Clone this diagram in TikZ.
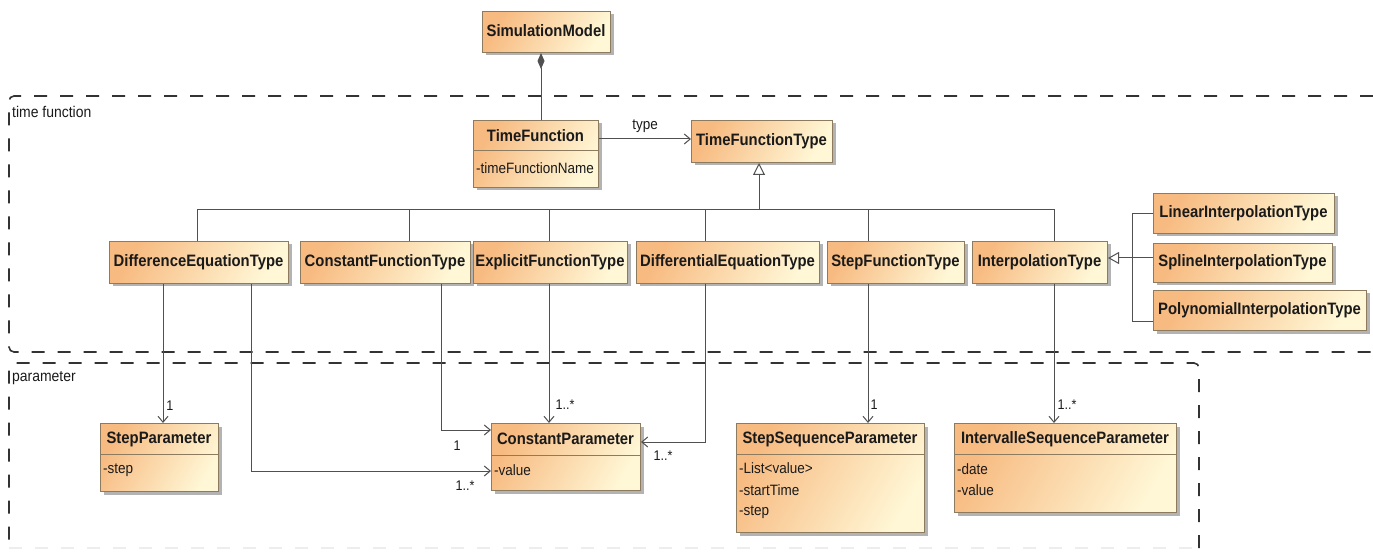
\documentclass[tikz,border=0pt]{standalone}
\usepackage{fontspec}
\setmainfont{Liberation Sans}[FakeStretch=0.9]
\usetikzlibrary{arrows.meta,shadows,calc}
\definecolor{boxedge}{HTML}{8C7B5E}
\definecolor{boxl}{HTML}{F7BA80}
\definecolor{boxr}{HTML}{FFF7D6}
\definecolor{ln}{HTML}{505050}
\definecolor{pkg}{HTML}{333333}
\definecolor{txt}{HTML}{1A1A1A}
\tikzset{
  cls/.style={draw=boxedge, line width=1pt, left color=boxl, right color=boxr, shading angle=60,
    drop shadow={shadow xshift=3pt, shadow yshift=-3pt, fill=black!50, opacity=0.6},
    inner sep=0pt, anchor=north west},
  cname/.style={font=\bfseries\fontsize{16.5}{18}\selectfont, inner sep=0pt, text=txt},
  attr/.style={font=\fontsize{15}{18}\selectfont, inner sep=0pt, anchor=west, text=txt},
  divline/.style={draw=boxedge, line width=1pt},
  conn/.style={draw=ln, line width=1pt},
  assoc/.style={conn, -{Straight Barb[length=6pt,width=10pt]}},
  gen/.style={conn, -{Triangle[length=12pt,width=12pt,fill=white]}},
  comp/.style={conn, {Diamond[length=16pt,width=7pt,fill=ln]}-},
  mult/.style={font=\fontsize{14}{16}\selectfont, inner sep=0pt, text=txt},
  pkgline/.style={draw=pkg, line width=1.6pt, dash pattern=on 13pt off 13pt, rounded corners=5pt},
  pkglabel/.style={font=\fontsize{15.5}{18}\selectfont, inner sep=0pt, anchor=west, text=txt},
}
\begin{document}
\begin{tikzpicture}[x=1pt,y=-1pt]
\useasboundingbox (0,0) rectangle (1373,553);
% packages
\draw[pkgline] (1373,96) -- (9,96) -- (9,352) -- (1373,352);
\node[pkglabel] (pkgtf) at (12,112) {time function};
\draw[pkgline] (1199,548) -- (1199,363) -- (9,363) -- (9,548);
\draw[draw=black!7, line width=1.2pt, dash pattern=on 13pt off 13pt] (9,548) -- (1199,548);
\node[pkglabel] (pkgpar) at (12,378) {parameter};

% classes
\node[cls, minimum width=128pt, minimum height=41pt] (sm) at (482,11) {};
\node[cname] at (546,31) {SimulationModel};

\node[cls, minimum width=125pt, minimum height=67pt] (tf) at (473,120) {};
\draw[divline] (473,151) -- (598,151);
\node[cname] at (535.5,136) {TimeFunction};
\node[attr] at (476,168) {-timeFunctionName};

\node[cls, minimum width=141pt, minimum height=42pt] (tft) at (691,120) {};
\node[cname] at (761.5,141) {TimeFunctionType};

\node[cls, minimum width=179pt, minimum height=42pt] (det) at (109,241) {};
\node[cname] at (198.5,262) {DifferenceEquationType};
\node[cls, minimum width=170pt, minimum height=42pt] (cft) at (300,241) {};
\node[cname] at (385,262) {ConstantFunctionType};
\node[cls, minimum width=154pt, minimum height=42pt] (eft) at (473,241) {};
\node[cname] at (550,262) {ExplicitFunctionType};
\node[cls, minimum width=183pt, minimum height=42pt] (deqt) at (636,241) {};
\node[cname] at (727.5,262) {DifferentialEquationType};
\node[cls, minimum width=137pt, minimum height=42pt] (sft) at (827,241) {};
\node[cname] at (895.5,262) {StepFunctionType};
\node[cls, minimum width=135pt, minimum height=42pt] (it) at (972,241) {};
\node[cname] at (1039.5,262) {InterpolationType};

\node[cls, minimum width=181pt, minimum height=40pt] (lit) at (1153,193) {};
\node[cname] at (1243.5,213) {LinearInterpolationType};
\node[cls, minimum width=179pt, minimum height=39pt] (sit) at (1153,243) {};
\node[cname] at (1242.5,262) {SplineInterpolationType};
\node[cls, minimum width=213pt, minimum height=40pt] (pit) at (1153,290) {};
\node[cname] at (1259.5,310) {PolynomialInterpolationType};

\node[cls, minimum width=118pt, minimum height=68pt] (spar) at (100,423) {};
\draw[divline] (100,454) -- (218,454);
\node[cname] at (159,439) {StepParameter};
\node[attr] at (103,470) {-step};

\node[cls, minimum width=149pt, minimum height=67pt] (cp) at (491,423) {};
\draw[divline] (491,455) -- (640,455);
\node[cname] at (565.5,439) {ConstantParameter};
\node[attr] at (494,470) {-value};

\node[cls, minimum width=188pt, minimum height=109pt] (ssp) at (736,423) {};
\draw[divline] (736,454) -- (924,454);
\node[cname] at (830,439) {StepSequenceParameter};
\node[attr] at (739,468) {-List<value>};
\node[attr] at (739,490) {-startTime};
\node[attr] at (739,512) {-step};

\node[cls, minimum width=222pt, minimum height=89pt] (isp) at (954,423) {};
\draw[divline] (954,454) -- (1176,454);
\node[cname] at (1065,439) {IntervalleSequenceParameter};
\node[attr] at (957,469) {-date};
\node[attr] at (957,490) {-value};

% helper coordinates
\coordinate (xcmp) at (541,0);
\coordinate (ytype) at (0,139);
\coordinate (bus) at (0,210);
\coordinate (x197) at (197,0);
\coordinate (x409) at (409,0);
\coordinate (x549) at (549,0);
\coordinate (x705) at (705,0);
\coordinate (x759) at (759,0);
\coordinate (x868) at (868,0);
\coordinate (x1054) at (1054,0);
\coordinate (xig) at (1132,0);
\coordinate (yig) at (0,258);
\coordinate (ypit) at (0,321);
\coordinate (x163) at (163,0);
\coordinate (a2) at (251,471);
\coordinate (a3) at (441,430);
\coordinate (a5) at (705,442);

% composition
\draw[comp] (sm.south -| xcmp) -- (tf.north -| xcmp);
% type association
\draw[assoc] (tf.east |- ytype) -- (tft.west |- ytype) node[mult, pos=0.5, above=6pt, font=\fontsize{15}{18}\selectfont] {type};

% generalization tree
\draw[conn] (det.north -| x197) -- (x197 |- bus) -- (x1054 |- bus) -- (it.north -| x1054);
\draw[conn] (cft.north -| x409) -- (x409 |- bus);
\draw[conn] (eft.north -| x549) -- (x549 |- bus);
\draw[conn] (deqt.north -| x705) -- (x705 |- bus);
\draw[conn] (sft.north -| x868) -- (x868 |- bus);
\draw[gen] (x759 |- bus) -- (tft.south -| x759);

% interpolation generalization
\draw[conn] (lit.west) -| (xig |- ypit) -- (pit.west |- ypit);
\draw[conn] (sit.west |- yig) -- (xig |- yig);
\draw[conn, -{Triangle[length=11pt,width=12pt,fill=white]}] (xig |- yig) -- (it.east |- yig);

% associations
\draw[assoc] (det.south -| x163) -- (spar.north -| x163);
\node[mult] at (170,406) {1};
\draw[assoc] (det.south -| a2) |- (cp.west |- a2);
\node[mult] at (465,486) {1..*};
\draw[assoc] (cft.south -| a3) |- (cp.west |- a3);
\node[mult] at (457,446) {1};
\draw[assoc] (eft.south -| x549) -- (cp.north -| x549);
\node[mult] at (565,405) {1..*};
\draw[assoc] (deqt.south -| a5) |- (cp.east |- a5);
\node[mult] at (663,456) {1..*};
\draw[assoc] (sft.south -| x868) -- (ssp.north -| x868);
\node[mult] at (874,405) {1};
\draw[assoc] (it.south -| x1054) -- (isp.north -| x1054);
\node[mult] at (1067,405) {1..*};
\end{tikzpicture}
\end{document}
